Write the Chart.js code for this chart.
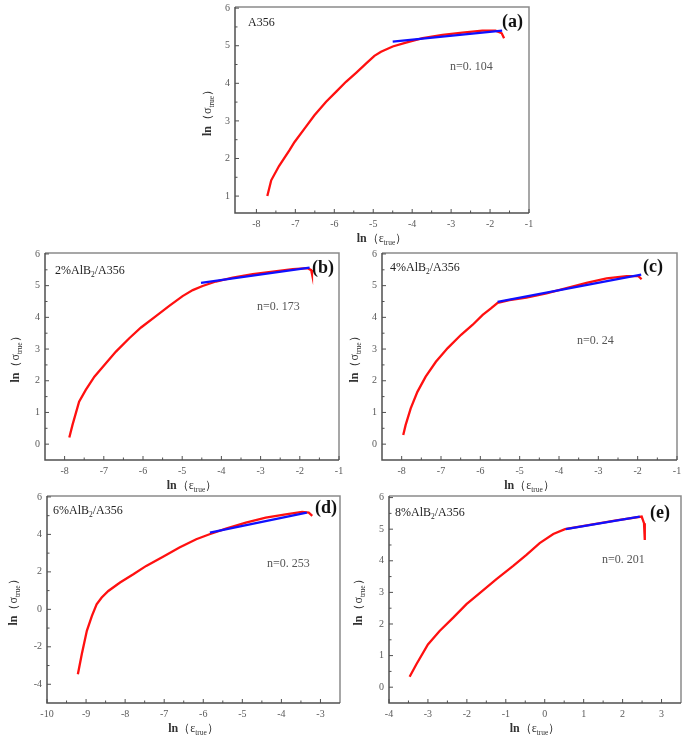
<!DOCTYPE html>
<html>
<head>
<meta charset="utf-8">
<script src="https://cdn.jsdelivr.net/npm/chart.js@4.4.1/dist/chart.umd.min.js"></script>
<style>
body { margin: 0; background: #fff; width: 685px; height: 740px; position: relative; overflow: hidden; }
canvas { position: absolute; }
</style>
</head>
<body>
<script>
// (a) A356
let aStrain = [-7.72, -7.62, -7.42, -7.15, -7.02, -6.76, -6.51, -6.21, -5.95, -5.70, -5.44, -5.18, -4.97, -4.80, -4.50, -4.16, -3.73, -3.22, -2.71, -2.20, -1.86, -1.70, -1.64];
let aStress = [1.00, 1.42, 1.80, 2.22, 2.44, 2.80, 3.15, 3.51, 3.78, 4.04, 4.28, 4.53, 4.73, 4.84, 4.98, 5.08, 5.20, 5.29, 5.35, 5.40, 5.40, 5.33, 5.20];
let aFitStrain = [-4.50, -1.69];
let aFitStress = [5.11, 5.40];
let aXTicks = [-8, -7, -6, -5, -4, -3, -2, -1];
let aYTicks = [1, 2, 3, 4, 5, 6];

// (b) 2%AlB2/A356
let bStrain = [-7.88, -7.80, -7.63, -7.46, -7.24, -6.99, -6.69, -6.35, -6.05, -5.67, -5.33, -4.99, -4.73, -4.48, -4.14, -3.71, -3.20, -2.69, -2.18, -1.80, -1.71, -1.69];
let bStress = [0.21, 0.60, 1.34, 1.71, 2.13, 2.49, 2.92, 3.34, 3.68, 4.04, 4.36, 4.67, 4.86, 4.99, 5.13, 5.25, 5.36, 5.44, 5.52, 5.55, 5.49, 5.37];
let bFitStrain = [-4.52, -1.75];
let bFitStress = [5.09, 5.57];
let bXTicks = [-8, -7, -6, -5, -4, -3, -2, -1];
let bYTicks = [0, 1, 2, 3, 4, 5, 6];

// (c) 4%AlB2/A356
let cStrain = [-7.96, -7.90, -7.77, -7.60, -7.39, -7.13, -6.83, -6.49, -6.20, -5.94, -5.73, -5.56, -5.26, -4.83, -4.32, -3.81, -3.30, -2.79, -2.28, -1.98, -1.90];
let cStress = [0.29, 0.60, 1.13, 1.65, 2.13, 2.60, 3.03, 3.45, 3.76, 4.08, 4.28, 4.46, 4.54, 4.62, 4.76, 4.92, 5.09, 5.23, 5.30, 5.30, 5.20];
let cFitStrain = [-5.56, -1.91];
let cFitStress = [4.49, 5.35];
let cXTicks = [-8, -7, -6, -5, -4, -3, -2, -1];
let cYTicks = [0, 1, 2, 3, 4, 5, 6];

// (d) 6%AlB2/A356
let dStrain = [-9.21, -9.11, -8.98, -8.85, -8.73, -8.60, -8.43, -8.13, -7.79, -7.46, -7.03, -6.61, -6.18, -5.84, -5.42, -4.91, -4.40, -3.89, -3.47, -3.30, -3.21];
let dStress = [-3.47, -2.40, -1.15, -0.35, 0.27, 0.63, 0.98, 1.43, 1.87, 2.32, 2.81, 3.30, 3.74, 4.01, 4.31, 4.63, 4.90, 5.07, 5.20, 5.16, 4.99];
let dFitStrain = [-5.83, -3.35];
let dFitStress = [4.10, 5.16];
let dXTicks = [-10, -9, -8, -7, -6, -5, -4, -3];
let dYTicks = [-4, -2, 0, 2, 4, 6];

// (e) 8%AlB2/A356
let eStrain = [-3.47, -3.30, -3.00, -2.70, -2.35, -2.01, -1.67, -1.24, -0.81, -0.47, -0.13, 0.22, 0.52, 1.16, 1.84, 2.49, 2.55, 2.57];
let eStress = [0.33, 0.72, 1.35, 1.78, 2.20, 2.63, 2.98, 3.42, 3.84, 4.19, 4.56, 4.85, 5.00, 5.14, 5.28, 5.40, 5.19, 4.66];
let eFitStrain = [0.54, 2.44];
let eFitStress = [5.00, 5.40];
let eXTicks = [-4, -3, -2, -1, 0, 1, 2, 3];
let eYTicks = [0, 1, 2, 3, 4, 5, 6];

const LEFT = 45, TOP = 12, RIGHT = 14, BOTTOM = 36;
const SERIF = "'Liberation Serif', 'DejaVu Serif', serif";

function zip(xs, ys) {
    return xs.map((v, i) => ({ x: v, y: ys[i] }));
}

// draws text pieces one after another, sub pieces smaller and lower
function drawRich(ctx, parts, x, y, size, color, center) {
    let total = 0;
    parts.forEach(p => {
        ctx.font = (p.bold ? "bold " : "") + (p.sub ? size * 0.62 : size) + "px " + SERIF;
        p.w = ctx.measureText(p.t).width;
        total += p.w;
    });
    let cx = center ? x - total / 2 : x;
    ctx.fillStyle = color;
    ctx.textAlign = "left";
    ctx.textBaseline = "alphabetic";
    parts.forEach(p => {
        ctx.font = (p.bold ? "bold " : "") + (p.sub ? size * 0.62 : size) + "px " + SERIF;
        ctx.fillText(p.t, cx, p.sub ? y + size * 0.28 : y);
        cx += p.w;
    });
}

function framePlugin(p) {
    return {
        id: "frame",
        afterDraw(chart) {
            let ctx = chart.ctx;
            let a = chart.chartArea;
            let xs = chart.scales.x, ys = chart.scales.y;
            ctx.save();
            // top / right
            ctx.strokeStyle = "#8a8a8a";
            ctx.lineWidth = 1.5;
            ctx.beginPath();
            ctx.moveTo(a.left, a.top);
            ctx.lineTo(a.right, a.top);
            ctx.lineTo(a.right, a.bottom);
            ctx.stroke();
            // left / bottom
            ctx.strokeStyle = "#505050";
            ctx.beginPath();
            ctx.moveTo(a.left, a.top);
            ctx.lineTo(a.left, a.bottom);
            ctx.lineTo(a.right, a.bottom);
            ctx.stroke();

            // inward ticks
            ctx.lineWidth = 1;
            ctx.beginPath();
            let xt = p.xTicks, yt = p.yTicks;
            for (let i = 0; i < xt.length; i++) {
                let px = xs.getPixelForValue(xt[i]);
                ctx.moveTo(px, a.bottom);
                ctx.lineTo(px, a.bottom - 4);
                if (i < xt.length - 1) {
                    let m = xs.getPixelForValue((xt[i] + xt[i + 1]) / 2);
                    ctx.moveTo(m, a.bottom);
                    ctx.lineTo(m, a.bottom - 2.5);
                }
            }
            for (let i = 0; i < yt.length; i++) {
                let py = ys.getPixelForValue(yt[i]);
                ctx.moveTo(a.left, py);
                ctx.lineTo(a.left + 4, py);
                if (i < yt.length - 1) {
                    let m = ys.getPixelForValue((yt[i] + yt[i + 1]) / 2);
                    ctx.moveTo(a.left, m);
                    ctx.lineTo(a.left + 2.5, m);
                }
            }
            ctx.stroke();

            // axis titles
            drawRich(ctx, [{ t: "ln", bold: true }, { t: "（ε" }, { t: "true", sub: true }, { t: "）" }],
                (a.left + a.right) / 2, a.bottom + 29, 12, "#333", true);
            ctx.save();
            ctx.translate(a.left - p.yTitleGap, (a.top + a.bottom) / 2);
            ctx.rotate(-Math.PI / 2);
            drawRich(ctx, [{ t: "ln", bold: true }, { t: "（σ" }, { t: "true", sub: true }, { t: "）" }],
                0, 4, 12, "#333", true);
            ctx.restore();

            // labels inside the frame
            drawRich(ctx, p.name, a.left + p.namePos[0], a.top + p.namePos[1], 12, "#222", false);
            drawRich(ctx, [{ t: p.nText }], a.left + p.nPos[0], a.top + p.nPos[1], 12, "#555", false);
            drawRich(ctx, [{ t: p.tag, bold: true }], a.left + p.tagPos[0], a.top + p.tagPos[1], 18, "#111", false);
            ctx.restore();
        }
    };
}

function makeChart(p) {
    let f = p.frame;
    let W = f[2] - f[0] + LEFT + RIGHT;
    let H = f[3] - f[1] + TOP + BOTTOM;
    let c = document.createElement("canvas");
    c.width = W;
    c.height = H;
    c.style.left = (f[0] - LEFT) + "px";
    c.style.top = (f[1] - TOP) + "px";
    document.body.appendChild(c);

    let tickFont = { family: SERIF, size: 10 };
    new Chart(c.getContext("2d"), {
        type: "scatter",
        data: {
            datasets: [
                { data: zip(p.x, p.y), borderColor: "#ff1010", borderWidth: 2.3, showLine: true, pointRadius: 0, order: 2 },
                { data: zip(p.fitX, p.fitY), borderColor: "#1010ff", borderWidth: 2.3, showLine: true, pointRadius: 0, order: 1 }
            ]
        },
        options: {
            responsive: false,
            animation: false,
            events: [],
            plugins: { legend: { display: false }, tooltip: { enabled: false } },
            layout: { padding: { top: TOP, right: RIGHT, left: 0, bottom: 0 } },
            scales: {
                x: {
                    type: "linear", min: p.xRange[0], max: p.xRange[1],
                    grid: { display: false, drawTicks: false },
                    border: { display: false },
                    ticks: { font: tickFont, color: "#5a5a5a", padding: 5, autoSkip: false, maxRotation: 0 },
                    afterBuildTicks: s => { s.ticks = p.xTicks.map(v => ({ value: v })); },
                    afterFit: s => { s.height = BOTTOM; }
                },
                y: {
                    type: "linear", min: p.yRange[0], max: p.yRange[1],
                    grid: { display: false, drawTicks: false },
                    border: { display: false },
                    ticks: { font: tickFont, color: "#5a5a5a", padding: 5, autoSkip: false },
                    afterBuildTicks: s => { s.ticks = p.yTicks.map(v => ({ value: v })); },
                    afterFit: s => { s.width = LEFT; }
                }
            }
        },
        plugins: [framePlugin(p)]
    });
}

makeChart({
    frame: [235, 7, 529, 213], xRange: [-8.55, -1], yRange: [0.55, 6.03],
    x: aStrain, y: aStress, fitX: aFitStrain, fitY: aFitStress, xTicks: aXTicks, yTicks: aYTicks,
    yTitleGap: 28, name: [{ t: "A356" }], namePos: [13, 19], nText: "n=0. 104", nPos: [215, 63], tag: "(a)", tagPos: [267, 20]
});
makeChart({
    frame: [45, 253, 339, 460], xRange: [-8.5, -1], yRange: [-0.5, 6.03],
    x: bStrain, y: bStress, fitX: bFitStrain, fitY: bFitStress, xTicks: bXTicks, yTicks: bYTicks,
    yTitleGap: 30, name: [{ t: "2%AlB" }, { t: "2", sub: true }, { t: "/A356" }], namePos: [10, 21], nText: "n=0. 173", nPos: [212, 57], tag: "(b)", tagPos: [267, 20]
});
makeChart({
    frame: [382, 253, 677, 460], xRange: [-8.5, -1], yRange: [-0.5, 6.03],
    x: cStrain, y: cStress, fitX: cFitStrain, fitY: cFitStress, xTicks: cXTicks, yTicks: cYTicks,
    yTitleGap: 28, name: [{ t: "4%AlB" }, { t: "2", sub: true }, { t: "/A356" }], namePos: [8, 18], nText: "n=0. 24", nPos: [195, 91], tag: "(c)", tagPos: [261, 19]
});
makeChart({
    frame: [47, 496, 340, 703], xRange: [-10, -2.5], yRange: [-5, 6.05],
    x: dStrain, y: dStress, fitX: dFitStrain, fitY: dFitStress, xTicks: dXTicks, yTicks: dYTicks,
    yTitleGap: 34, name: [{ t: "6%AlB" }, { t: "2", sub: true }, { t: "/A356" }], namePos: [6, 18], nText: "n=0. 253", nPos: [220, 71], tag: "(d)", tagPos: [268, 17]
});
makeChart({
    frame: [389, 496, 681, 703], xRange: [-4, 3.5], yRange: [-0.5, 6.05],
    x: eStrain, y: eStress, fitX: eFitStrain, fitY: eFitStress, xTicks: eXTicks, yTicks: eYTicks,
    yTitleGap: 31, name: [{ t: "8%AlB" }, { t: "2", sub: true }, { t: "/A356" }], namePos: [6, 20], nText: "n=0. 201", nPos: [213, 67], tag: "(e)", tagPos: [261, 22]
});
</script>
</body>
</html>
